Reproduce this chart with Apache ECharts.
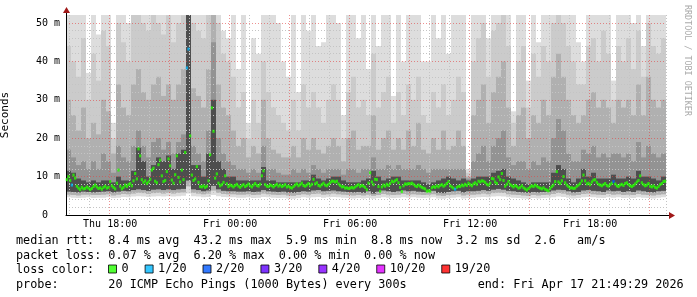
<!DOCTYPE html>
<html>
<head>
<meta charset="utf-8">
<title>smokeping</title>
<script src="https://cdn.jsdelivr.net/npm/echarts@6/dist/echarts.min.js"></script>
<style>
html, body { margin: 0; padding: 0; background: #fff; }
#chart { width: 697px; height: 297px; }
</style>
</head>
<body>
<div id="chart"></div>
<script>
// 5 minute steps, first step Thu 15:50
var STEP_MIN = 5;
var START_MIN = 15 * 60 + 50;

// median rtt per step (ms)
var median = [
  9.2,10.0,9.0,7.8,10.4,9.6,7.5,7.0,6.6,7.2,6.8,6.9,7.3,7.0,6.6,6.9,7.4,7.8,7.3,6.9,
  7.1,6.7,7.2,7.5,7.0,7.2,8.7,7.6,7.2,6.8,8.3,11.7,7.5,6.8,7.2,7.8,7.4,7.9,8.2,7.6,
  8.9,10.8,9.4,17.2,15.4,9.2,8.5,8.9,8.2,8.6,9.3,11.7,12.2,8.8,8.4,13.1,14.3,10.2,8.7,9.0,
  11.3,14.6,12.8,9.1,8.3,10.5,15.4,9.8,8.6,11.7,9.2,16.3,38.3,43.2,20.6,10.4,9.0,9.4,12.6,8.5,
  7.4,7.3,7.6,7.2,7.5,8.9,15.7,27.9,21.8,9.6,10.7,8.3,7.6,7.9,8.5,10.2,8.1,7.4,7.8,7.6,
  7.3,7.7,8.0,7.5,7.2,7.6,7.9,7.4,7.7,8.1,7.6,7.3,7.8,8.2,7.7,7.5,8.0,10.2,11.5,7.9,
  7.5,7.4,7.8,7.6,7.3,7.7,8.0,7.5,7.8,7.4,7.6,7.9,7.3,7.5,7.2,7.0,7.4,7.8,8.1,7.6,
  7.9,8.3,7.7,7.5,7.8,8.2,7.6,8.0,9.3,8.1,8.4,7.7,7.5,7.9,8.3,7.8,7.6,8.0,8.4,8.8,
  8.8,8.6,8.8,8.1,7.7,7.3,7.4,7.0,7.1,6.9,7.0,7.2,7.0,7.3,7.6,7.9,7.4,7.7,7.5,7.2,
  6.6,8.3,11.0,8.6,7.9,9.3,9.2,7.4,6.2,7.3,7.8,7.5,8.0,7.7,8.2,8.8,8.6,8.9,9.2,8.4,
  7.2,6.1,7.6,8.1,8.0,8.2,8.1,8.3,8.0,7.6,7.4,7.8,7.5,7.2,7.0,6.8,6.2,6.3,6.2,7.1,
  7.4,7.2,7.6,7.3,7.7,7.9,7.5,7.8,8.2,8.7,7.6,7.3,7.0,6.7,7.2,7.5,7.4,7.8,7.6,8.0,
  7.7,8.3,7.9,7.6,8.1,8.4,8.0,8.8,8.6,8.9,8.8,8.5,8.0,7.8,8.3,9.5,9.4,8.6,8.2,9.9,
  9.2,10.8,9.0,7.5,8.0,8.7,7.9,7.6,7.3,7.7,7.4,7.0,7.2,7.6,7.1,6.8,6.5,6.9,7.3,7.6,
  7.4,7.8,7.5,7.2,7.0,6.8,7.1,6.7,6.5,6.3,6.9,7.4,7.8,8.7,11.3,8.6,8.2,8.9,10.0,8.4,
  7.8,7.4,7.0,7.1,6.9,7.0,7.5,7.8,8.2,8.9,10.4,8.9,8.1,8.3,7.9,8.6,9.1,9.2,8.5,8.0,
  7.8,7.6,7.9,8.2,7.7,7.5,7.9,8.3,8.7,8.1,7.6,7.4,7.8,8.0,7.7,8.2,8.4,7.9,7.6,7.4,
  7.7,8.1,8.6,9.0,10.2,8.4,7.9,7.6,7.8,8.2,7.5,7.3,7.6,7.2,7.0,7.4,7.9,8.2,8.7,8.8
];

// [step index, lost pings of 20]
var lossSteps = [[3, 1], [72, 1], [73, 1], [233, 1], [328, 2]];

// smoke, one column per 3 steps (15 min); bottoms and tops of the grey bands (ms)
var smokeLoA = [
  4.6,4.5,4.4,4.5,4.6,4.4,4.5,4.5,4.6,4.4,4.5,4.7,4.6,4.8,4.9,4.8,4.7,4.8,4.9,4.8,4.9,4.8,4.9,5.0,5.6,4.9,4.8,4.6,4.7,5.2,4.9,4.7,4.6,
  4.6,4.5,4.5,4.6,4.4,4.5,4.7,4.6,4.5,4.4,4.5,4.3,4.2,4.4,4.6,4.5,4.6,4.7,4.5,4.6,4.7,4.6,4.5,4.4,4.3,4.4,4.3,4.4,4.2,4.4,4.6,4.5,
  4.4,4.5,4.6,4.5,4.6,4.5,4.4,4.5,4.6,4.3,4.2,4.4,4.5,4.6,4.3,4.4,
  4.5,4.6,4.7,4.6,4.8,4.9,4.8,4.6,4.5,4.4,4.3,4.2,4.4,4.3,4.4,4.5,4.6,4.8,4.7,4.5,4.3,4.4,4.6,4.7,4.6,4.5,4.4,4.6,4.5,4.6,4.4,4.5,4.4,4.6,4.5,4.4,4.3,4.5,4.6
];
var smokeLoB = [
  5.3,5.2,5.1,5.3,5.3,5.2,5.2,5.3,5.4,5.1,5.3,5.5,5.4,5.6,5.8,5.7,5.5,5.7,5.8,5.6,5.8,5.6,5.8,5.9,7.5,5.8,5.6,5.4,5.6,6.4,5.8,5.5,5.4,
  5.4,5.3,5.3,5.4,5.2,5.3,5.6,5.4,5.3,5.2,5.3,5.1,5.0,5.2,5.4,5.3,5.5,5.6,5.3,5.4,5.6,5.4,5.3,5.2,5.1,5.2,5.1,5.3,5.0,5.2,5.5,5.3,
  5.2,5.3,5.5,5.3,5.4,5.3,5.2,5.3,5.4,5.1,5.0,5.2,5.3,5.4,5.1,5.3,
  5.3,5.4,5.6,5.4,5.7,5.8,5.7,5.4,5.3,5.2,5.1,5.0,5.2,5.1,5.2,5.3,5.5,5.7,5.6,5.3,5.1,5.2,5.5,5.6,5.4,5.3,5.2,5.5,5.3,5.4,5.2,5.3,5.2,5.5,5.3,5.2,5.1,5.3,5.4
];
var smokeLoC = [
  6.1,6.0,5.9,6.1,6.0,5.9,6.0,6.1,6.2,5.9,6.1,6.3,6.2,6.5,6.7,6.5,6.3,6.6,6.7,6.5,6.7,6.5,6.7,6.8,9.0,6.7,6.5,6.2,6.4,7.6,6.7,6.3,6.2,
  6.2,6.1,6.1,6.2,6.0,6.1,6.5,6.2,6.1,6.0,6.1,5.9,5.8,6.0,6.2,6.1,6.4,6.5,6.2,6.3,6.4,6.2,6.1,6.0,5.9,6.0,5.8,6.2,5.6,6.1,6.4,6.2,
  6.0,6.2,6.4,6.2,6.3,6.1,6.0,6.1,6.3,5.8,5.7,6.0,6.2,6.3,5.9,6.2,
  6.2,6.3,6.5,6.3,6.6,6.8,6.6,6.3,6.2,6.0,5.9,5.8,6.0,5.9,6.0,6.1,6.4,6.6,6.5,6.2,5.9,6.0,6.4,6.5,6.3,6.2,6.0,6.4,6.2,6.3,6.0,6.2,6.0,6.4,6.2,6.0,5.9,6.2,6.3
];
var smokeHiA = [
  53,53,53,53,37,53,47,53,53,24,53,53,50,
  53,53,53,53,53,53,53,53,53,53,53,53,53,53,53,53,53,53,48,46,
  53,38,53,24,46,42,53,53,53,50,40,36,53,32,53,48,53,44,45,53,53,50,26,53,53,46,53,38,53,44,53,53,31,53,40,53,53,53,40,40,53,46,53,42,53,53,53,12,
  53,53,53,46,53,53,53,53,27,53,53,35,53,45,53,53,53,53,53,53,53,45,40,53,53,53,53,53,35,53,53,53,50,53,44,53,53,53,53
];
var smokeHiB = [
  44,40,36,46,30,42,35,48,44,20,50,45,40,
  53,53,50,48,53,50,47,52,45,50,52,53,50,48,46,53,53,50,42,40,
  36,28,32,20,30,24,40,32,28,26,24,22,30,22,34,28,32,28,24,30,34,30,20,32,36,28,30,26,42,28,32,36,24,32,26,34,30,36,26,24,32,28,34,26,30,36,32,11,
  40,46,50,36,48,50,53,44,24,40,44,28,42,36,44,40,50,53,50,44,40,34,34,44,46,40,48,42,30,44,40,46,38,48,36,50,44,42,46
];
var smokeHiC = [
  30,26,22,28,20,24,21,30,27,16,34,28,26,
  34,38,32,30,34,36,31,34,30,34,38,53,33,31,28,38,53,34,28,26,
  22,18,20,15,18,16,30,20,17,16,15,15,18,15,20,17,20,17,16,18,20,18,14,20,22,17,18,18,26,17,20,22,17,20,17,22,18,24,17,16,20,17,22,17,18,22,18,10,
  26,30,34,24,32,36,40,28,18,26,28,20,26,24,30,26,36,42,36,30,26,24,26,30,32,28,30,28,24,30,28,30,26,34,26,36,30,28,30
];
var smokeHiD = [
  17,15,13,14,12,14,12,16,14,11,18,15,14,
  18,22,18,15,19,20,17,19,16,19,21,53,18,16,14,22,45,20,16,14,
  13,12,12,11,12,11,18,12,12,11,10.5,10.5,12,11,12,11,13,12,11,12,12,12,10.5,12,12,11,12,12,15,12,12,13,12,13,12,12,12,13,12,11,12,12,12,12,12,12,12,9.5,
  14,16,18,14,18,20,22,15,13,14,14,12,14,13,15,14,20,25,22,16,14,14,17,16,18,15,16,15,16,16,15,16,14,19,15,18,16,15,16
];
var smokeHiE = [
  11.5,11,9.5,9,8.5,9,8.5,9,9,8.5,10,9,9,
  11.5,17.5,14,10,13,15,14,15.5,12,16,17,53,13,13,10,16,30,14,12,10,
  10,9,9,9,9,9,12.5,9,9,8.5,8.5,8.5,8.5,8.5,9,9,10.5,9.5,9,9.5,10,10,9,8.5,8.5,8.5,9,9.5,11.5,10,9,9.5,10,10,9,9,9,9,8.5,8,8.5,9,9.5,10,9.5,9,9.5,9,
  9.5,10,10,10,11,11.5,12,10,9.5,9,8.5,8,8.5,8.5,8.5,8.5,11,13,12,9.5,8.5,9.5,12,10,11,9.5,9.5,9.5,10.5,9.5,9.5,10,9.5,11.5,10,10,9.5,9,10
];
var smokeShades = ['#dddddd', '#cbcbcb', '#b0b0b0', '#939393', '#4e4e4e'];

var yMajorTicks = [0, 10, 20, 30, 40, 50];
var yMinorTicks = [2, 4, 6, 8, 12, 14, 16, 18, 22, 24, 26, 28, 32, 34, 36, 38, 42, 44, 46, 48];

var lossNames = ['0', '1/20', '2/20', '3/20', '4/20', '10/20', '19/20'];
var lossFrom = [0, 1, 2, 3, 4, 10, 19];
var lossColors = ['#26ff00', '#00b8ff', '#0059ff', '#5e00ff', '#7e00ff', '#dd00ff', '#ff0000'];

function pad(n) { return (n < 10 ? '0' : '') + n; }

var times = [];
for (var i = 0; i < median.length; i++) {
  var m = START_MIN + i * STEP_MIN;
  times.push((m >= 1440 ? 'Fri ' : 'Thu ') + pad(Math.floor((m % 1440) / 60)) + ':' + pad(m % 60));
}
function hourOf(v) { return parseInt(v.substr(4, 2), 10); }
function onHour(v) { return v.substr(7, 2) === '00'; }

// loss per step
var lossAt = {};
lossSteps.forEach(function (s) { lossAt[s[0]] = s[1]; });

var medianData = lossNames.map(function () { return []; });
median.forEach(function (v, i) {
  var l = lossAt[i] || 0, b = 0;
  for (var k = 0; k < lossFrom.length; k++) { if (l >= lossFrom[k]) b = k; }
  medianData[b].push([i, v]);
});

var smokeData = smokeHiA.map(function (h, j) {
  return [3 * j + 1, smokeLoA[j], smokeLoB[j], smokeLoC[j],
          smokeHiA[j], smokeHiB[j], smokeHiC[j], smokeHiD[j], smokeHiE[j]];
});

function renderSmoke(params, api) {
  var cx = api.value(0);
  var bw = api.size([1, 0])[0];
  var left = api.coord([cx, 0])[0] - 1.5 * bw;
  var top = params.coordSys.y, bottom = params.coordSys.y + params.coordSys.height;
  var lows = [api.value(1), api.value(2), api.value(2), api.value(3), api.value(3)];
  var kids = [];
  for (var b = 0; b < 5; b++) {
    var y1 = Math.max(api.coord([cx, api.value(4 + b)])[1], top);
    var y0 = Math.min(api.coord([cx, lows[b]])[1], bottom);
    if (y0 > y1) {
      kids.push({ type: 'rect', shape: { x: left, y: y1, width: 3 * bw, height: y0 - y1 },
                  style: { fill: smokeShades[b] } });
    }
  }
  return { type: 'group', children: kids };
}

var MONO = '"DejaVu Sans Mono"';
var chart = echarts.init(document.getElementById('chart'), null, { renderer: 'canvas' });

var series = [{
  type: 'custom',
  name: 'smoke',
  renderItem: renderSmoke,
  data: smokeData,
  encode: { x: 0, y: 4 },
  silent: true,
  z: 1
}];
lossNames.forEach(function (n, k) {
  series.push({
    type: 'scatter',
    name: n,
    data: medianData[k],
    symbol: 'rect',
    symbolSize: [2.2, 3],
    itemStyle: { color: lossColors[k] },
    silent: true,
    z: 10
  });
});

var majorGrid = { color: 'rgba(225,70,70,0.6)', type: [1, 2], width: 1 };
var minorGrid = { color: '#c4c4c4', type: [1, 2], width: 1 };

var option = {
  animation: false,
  backgroundColor: '#fff',
  grid: { left: 66, top: 15, width: 600, height: 200, containLabel: false, outerBoundsMode: 'none' },
  legend: {
    data: lossNames,
    left: 108, top: 263, padding: 0,
    itemGap: 16, itemWidth: 8, itemHeight: 8,
    icon: 'rect',
    selectedMode: false,
    itemStyle: { borderColor: '#000', borderWidth: 1 },
    textStyle: { fontFamily: MONO, fontSize: 11.8, color: '#000' }
  },
  xAxis: [{
    type: 'category',
    data: times,
    boundaryGap: true,
    z: 3,
    axisLine: { lineStyle: { color: '#000', width: 1 } },
    axisTick: { show: false },
    axisLabel: {
      interval: function (idx, v) { return onHour(v) && hourOf(v) % 6 === 0; },
      margin: 4,
      color: '#000',
      fontFamily: MONO, fontSize: 10
    },
    splitLine: {
      show: true,
      interval: function (idx, v) { return onHour(v) && hourOf(v) % 3 === 0; },
      lineStyle: majorGrid
    }
  }, {
    type: 'category',
    data: times,
    boundaryGap: true,
    z: 3,
    axisLine: { show: false },
    axisTick: { show: false },
    axisLabel: { show: false },
    splitLine: {
      show: true,
      interval: function (idx, v) { return onHour(v) && hourOf(v) % 3 !== 0; },
      lineStyle: minorGrid
    }
  }],
  yAxis: [{
    type: 'value',
    min: 0, max: 52.08, interval: 10,
    z: 3,
    name: 'Seconds',
    nameLocation: 'middle',
    nameRotate: 90,
    nameGap: 55,
    nameTextStyle: { fontFamily: MONO, fontSize: 11, color: '#000' },
    axisLine: { show: true, lineStyle: { color: '#000', width: 1 } },
    axisTick: { show: false, customValues: yMajorTicks },
    axisLabel: {
      customValues: yMajorTicks,
      margin: 6,
      color: '#000',
      fontFamily: MONO, fontSize: 10,
      formatter: function (v) { return v === 0 ? '0  ' : v + ' m'; }
    },
    splitLine: { show: true, lineStyle: majorGrid }
  }, {
    type: 'value',
    min: 0, max: 52.08, interval: 2,
    z: 3,
    position: 'left',
    axisLine: { show: false },
    axisTick: { show: false, customValues: yMinorTicks },
    axisLabel: { show: false },
    splitLine: { show: true, lineStyle: minorGrid }
  }],
  series: series,
  graphic: [
    { type: 'line', shape: { x1: 66.5, y1: 15, x2: 66.5, y2: 11 }, style: { stroke: '#000', lineWidth: 1 } },
    { type: 'polygon', shape: { points: [[63, 13], [70, 13], [66.5, 7]] }, style: { fill: '#a01818' } },
    { type: 'line', shape: { x1: 666, y1: 215.5, x2: 670, y2: 215.5 }, style: { stroke: '#000', lineWidth: 1 } },
    { type: 'polygon', shape: { points: [[669, 212], [669, 219], [675, 215.5]] }, style: { fill: '#a01818' } },
    { type: 'text', x: 691, y: 5, rotation: -Math.PI / 2,
      style: { text: 'RRDTOOL / TOBI OETIKER', font: '8.4px ' + MONO, fill: '#aaaaaa', align: 'left', verticalAlign: 'top' } },
    { type: 'text', x: 16, y: 241,
      style: { text: 'median rtt:  8.4 ms avg  43.2 ms max  5.9 ms min  8.8 ms now  3.2 ms sd  2.6   am/s',
               font: '11.8px ' + MONO, fill: '#000', verticalAlign: 'middle' } },
    { type: 'text', x: 16, y: 255.5,
      style: { text: 'packet loss: 0.07 % avg  6.20 % max  0.00 % min  0.00 % now',
               font: '11.8px ' + MONO, fill: '#000', verticalAlign: 'middle' } },
    { type: 'text', x: 16, y: 270,
      style: { text: 'loss color:', font: '11.8px ' + MONO, fill: '#000', verticalAlign: 'middle' } },
    { type: 'text', x: 16, y: 284.5,
      style: { text: 'probe:       20 ICMP Echo Pings (1000 Bytes) every 300s          end: Fri Apr 17 21:49:29 2026',
               font: '11.8px ' + MONO, fill: '#000', verticalAlign: 'middle' } }
  ]
};

chart.setOption(option);
</script>
</body>
</html>
